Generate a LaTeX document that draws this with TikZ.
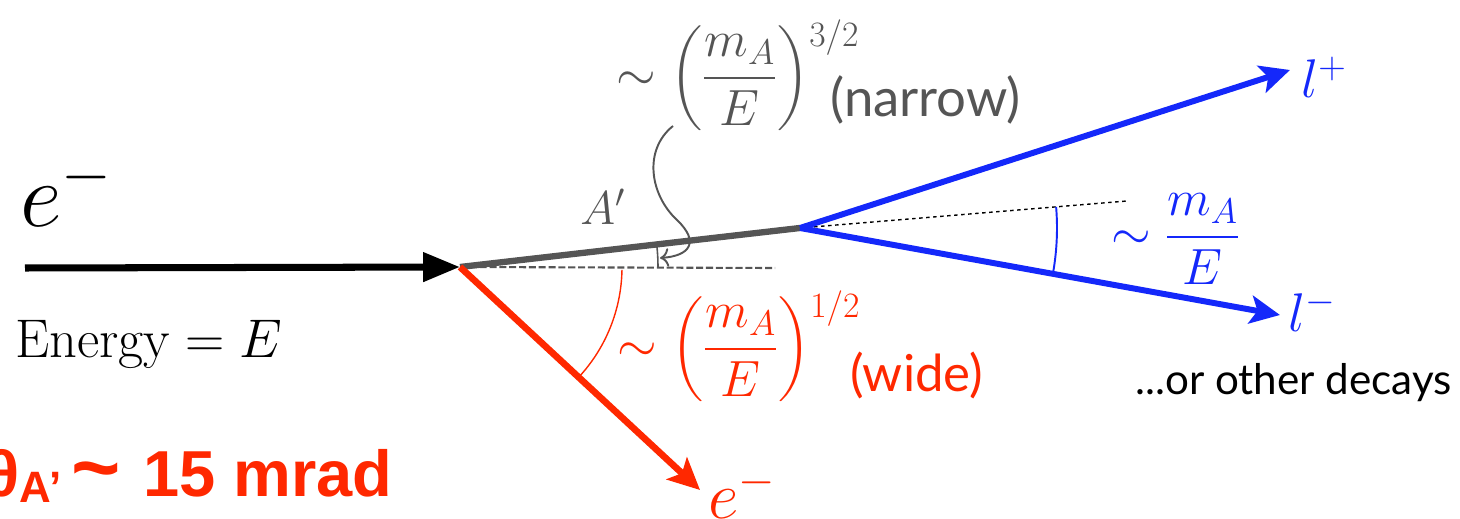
\RequirePackage{fix-cm}
\documentclass[tikz,border=0pt]{standalone}
\usepackage{amsmath}
\usepackage{fontspec}
\usetikzlibrary{arrows.meta}
\newfontfamily\gillfont{Lato}
\newfontfamily\arialfont{Liberation Sans}
\definecolor{leptonblue}{RGB}{20,40,250}
\definecolor{recoilred}{RGB}{255,40,0}
\definecolor{apgray}{RGB}{85,85,85}
\newcommand{\fsz}[1]{\fontsize{#1}{1.2\dimexpr#1pt\relax}\selectfont}
\newcommand{\lowsup}[1]{\raisebox{-4pt}{$\scriptstyle #1$}}
\begin{document}
\begin{tikzpicture}[
    x=0.02cm, y=-0.02cm,
    every node/.style={inner sep=0pt},
    track/.style={line width=3.6pt},
    lbl/.style={anchor=base west, font=\fsz{29}},
    note/.style={anchor=base west, font=\gillfont\fsz{30}}
]
\useasboundingbox (0,0) rectangle (1460,519);

% Vertices
\coordinate (beam) at (25,268);
\coordinate (vtx) at (460,267);
\coordinate (dec) at (800,228);
\coordinate (lplus) at (1290,70);
\coordinate (lminus) at (1280,315);
\coordinate (recoil) at (700,490);
\coordinate (dashend) at (775,268);
\coordinate (dotend) at (1127,201);

% Incoming electron
\draw[track, line width=4pt, -{Triangle[length=21pt,width=16pt]}] (beam) -- (vtx);
\node[anchor=base west, font=\fsz{52}] (ein) at (20,227) {$e^-$};
\node[anchor=base west, font=\fsz{31}] (energy) at (15,358) {$\mathrm{Energy}=E$};

% Reference lines
\draw[apgray, line width=1.2pt, dash pattern=on 4pt off 1.6pt] (vtx) -- (dashend);
\draw[black, line width=0.8pt, dash pattern=on 2pt off 2pt] (dec) -- (dotend);

% A' and decay products
\draw[apgray, track] (vtx) -- (dec);
\draw[leptonblue, track, line width=3.4pt, -{Stealth[length=17pt,width=16pt,inset=4pt]}] (dec) -- (lplus);
\draw[leptonblue, track, line width=3.4pt, -{Stealth[length=17pt,width=16pt,inset=4pt]}] (dec) -- (lminus);
\draw[recoilred, track, line width=3.8pt, -{Stealth[length=18pt,width=17pt,inset=4pt]}] (vtx) -- (recoil);

% Angle arcs
\draw[apgray, line width=0.9pt] (vtx) ++(0:198) arc[start angle=0, end angle=-6.5, radius=198];
\draw[recoilred, line width=0.8pt] (vtx) ++(1:162) arc[start angle=1, end angle=42.9, radius=162];
\draw[leptonblue, line width=1.1pt] (dec) ++(-4.7:257) arc[start angle=-4.7, end angle=10.6, radius=257];

% Labels
\node[apgray, anchor=base west, font=\fsz{27}] (aprime) at (580,225) {$A'$};
\node[apgray, lbl] (narrowfrac) at (616,91) {$\sim\Bigl(\dfrac{m_A}{E}\Bigr)^{\lowsup{3/2}}$};
\node[apgray, note] (narrow) at (830,117) {(narrow)};
\node[recoilred, lbl] (widefrac) at (617,362) {$\sim\Bigl(\dfrac{m_A}{E}\Bigr)^{\lowsup{1/2}}$};
\node[recoilred, note, font=\gillfont\fsz{29}] (wide) at (850,392) {(wide)};
\node[leptonblue, lbl] (openfrac) at (1111,250) {$\sim\dfrac{m_A}{E}$};
\node[leptonblue, anchor=base west, font=\fsz{31}] (lp) at (1301,98) {$l^+$};
\node[leptonblue, anchor=base west, font=\fsz{31}] (lm) at (1288,332) {$l^-$};
\node[recoilred, anchor=base west, font=\fsz{38}] (eout) at (708,519) {$e^-$};
\node[note, font=\gillfont\fsz{24}] (other) at (1135,395) {...or other decays};

% Pointer to the narrow angle
\coordinate (cs) at (673,126);
\coordinate (ce) at (660,258);
\draw[apgray, line width=1.1pt, -{To[length=5pt]}] (cs) .. controls (643,150) and (650,195) .. (677,220) .. controls (700,242) and (690,256) .. (ce);

% Opening angle
\node[recoilred, anchor=base east, font=\arialfont\bfseries\fsz{37}] (theta) at (393,497)
  {θ\raisebox{-3pt}{\fsz{25}A’}\hspace{0.15em}\scalebox{1.3}{\textasciitilde}\hspace{0.35em}15 mrad};
\end{tikzpicture}
\end{document}
